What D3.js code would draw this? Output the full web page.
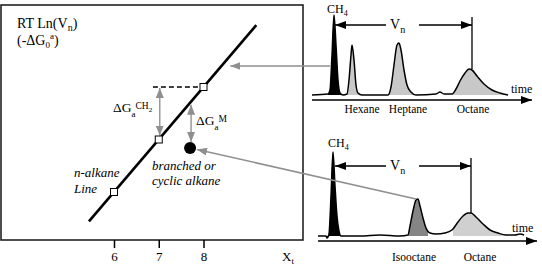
<!DOCTYPE html>
<html>
<head>
<meta charset="utf-8">
<script src="https://cdn.jsdelivr.net/npm/d3@7"></script>
<style>
body { margin: 0; background: #fff; }
svg text { font-family: "Liberation Serif", "Times New Roman", Times, Tinos, "Noto Serif", "DejaVu Serif", serif !important; fill: #000; }
</style>
</head>
<body>
<div id="chart"></div>
<script>
// left panel: carbon number vs RT Ln(Vn) (arbitrary units)
var carbonNumbers = [6, 7, 8];
var alkaneEnergy = [6.0, 7.0, 8.0];
var lineCarbon = [5.44, 9.18];
var lineEnergy = [5.44, 9.18];
var branchedCarbon = 7.7;
var branchedEnergy = 6.84;
var xTicks = [6, 7, 8];

// chromatograms: time (a.u.) and detector signal (a.u.)
var topTime   = [0, 16, 18, 20, 22, 24, 26, 28, 31, 35, 37, 39, 40, 42, 44, 46, 50, 76, 79, 82, 85, 87, 89, 92, 95, 99, 104, 124, 128, 132, 140, 144, 148, 153, 157, 160, 165, 172, 180, 188, 196];
var topSignal = [0, 1, 5, 40, 80, 50, 15, 2, 0, 1, 15, 40, 50, 35, 10, 2, 0, 0, 8, 30, 50, 52, 45, 25, 10, 3, 0, 1, 3, 1, 1, 6, 14, 22, 26, 25, 19, 11, 5, 2, 0];
var topPeakNames = ["Hexane", "Heptane", "Octane"];
var topPeakTimes = [40, 87, 157];
var topFills = [[16, 31, "#000"], [35, 50, "#c8c8c8"], [76, 104, "#c8c8c8"], [140, 196, "#c8c8c8"]];

var botTime   = [6, 14, 15, 17, 19, 21, 23, 25, 27, 29, 48, 68, 88, 96, 98, 101, 104, 106, 108, 111, 114, 118, 124, 133, 140, 146, 151, 156, 159, 164, 171, 178, 186, 194, 203, 208, 212];
var botSignal = [0, 0, -2, 2, 40, 84, 50, 20, 5, 0, 0, 1, 0, 1, 10, 25, 36, 37, 30, 18, 8, 3, 2, 3, 6, 14, 20, 23, 23, 19, 12, 6, 3, 1, 1, 2, 1];
var botPeakNames = ["Isooctane", "Octane"];
var botPeakTimes = [102, 168];
var botFills = [[14, 29, "#000"], [96, 116, "#858585"], [141, 195, "#d0d0d0"]];

var svg = d3.select("#chart").append("svg")
  .attr("width", 542)
  .attr("height", 266);

svg.append("rect").attr("width", 542).attr("height", 266).attr("fill", "#fff");

var defs = svg.append("defs");
function marker(id, color, w, h) {
  defs.append("marker")
    .attr("id", id)
    .attr("markerUnits", "userSpaceOnUse")
    .attr("markerWidth", w).attr("markerHeight", h)
    .attr("refX", w).attr("refY", h / 2)
    .attr("orient", "auto-start-reverse")
    .append("path")
    .attr("d", `M0,0L${w},${h / 2}L0,${h}Z`)
    .attr("fill", color);
}
marker("ag", "#8f8f8f", 10, 8);
marker("ab", "#000", 11, 8);

// ---------------- left panel ----------------
var x = d3.scaleLinear().domain([6, 8]).range([114, 203.5]);
var y = d3.scaleLinear().domain([6, 8]).range([192, 87]);

svg.append("rect")
  .attr("x", 1).attr("y", 5)
  .attr("width", 302).attr("height", 235)
  .attr("fill", "none").attr("stroke", "#222").attr("stroke-width", 1.6);

var xAxis = svg.append("g")
  .attr("transform", "translate(0,240)")
  .call(d3.axisBottom(x).tickValues(xTicks).tickFormat(d3.format("d")).tickSize(8).tickPadding(4));
xAxis.select(".domain").remove();
xAxis.selectAll("line").attr("stroke", "#000").attr("stroke-width", 1.5);
xAxis.selectAll("text").style("font-size", "13px");

var xt = svg.append("text").attr("x", 282).attr("y", 261).style("font-size", "13px");
xt.append("tspan").text("X");
xt.append("tspan").attr("dy", 3).style("font-size", "9px").text("t");

// dashed reference from the n=8 point
svg.append("line")
  .attr("x1", x(6.87)).attr("x2", x(8))
  .attr("y1", y(alkaneEnergy[2])).attr("y2", y(alkaneEnergy[2]))
  .attr("stroke", "#000").attr("stroke-width", 1.4)
  .attr("stroke-dasharray", "5,3");

// n-alkane line
svg.append("line")
  .attr("x1", x(lineCarbon[0])).attr("y1", y(lineEnergy[0]))
  .attr("x2", x(lineCarbon[1])).attr("y2", y(lineEnergy[1]))
  .attr("stroke", "#000").attr("stroke-width", 2.6);

// gray double arrows
svg.append("line")
  .attr("x1", x(7) + 1).attr("x2", x(7) + 1)
  .attr("y1", y(alkaneEnergy[2]) + 1).attr("y2", y(alkaneEnergy[1]) - 4)
  .attr("stroke", "#999").attr("stroke-width", 1.5)
  .attr("marker-start", "url(#ag)").attr("marker-end", "url(#ag)");
svg.append("line")
  .attr("x1", x(branchedCarbon) + 1).attr("x2", x(branchedCarbon) + 1)
  .attr("y1", y(branchedCarbon) + 2).attr("y2", y(branchedEnergy) - 6)
  .attr("stroke", "#999").attr("stroke-width", 1.5)
  .attr("marker-start", "url(#ag)").attr("marker-end", "url(#ag)");

svg.selectAll(".pt")
  .data(carbonNumbers)
  .enter().append("rect")
  .attr("class", "pt")
  .attr("x", (d, i) => x(d) - 3.5)
  .attr("y", (d, i) => y(alkaneEnergy[i]) - 3.5)
  .attr("width", 7).attr("height", 7)
  .attr("fill", "#fff").attr("stroke", "#000").attr("stroke-width", 1);

svg.append("circle")
  .attr("cx", x(branchedCarbon)).attr("cy", y(branchedEnergy))
  .attr("r", 6).attr("fill", "#000");

// axis title
var t1 = svg.append("text").attr("x", 17).attr("y", 28).style("font-size", "14px");
t1.append("tspan").text("RT Ln(V");
t1.append("tspan").attr("dy", 3).style("font-size", "10px").text("n");
t1.append("tspan").attr("dy", -3).text(")");
var t2 = svg.append("text").attr("x", 17).attr("y", 45).style("font-size", "14px");
t2.append("tspan").text("(-ΔG");
t2.append("tspan").attr("dy", 3).style("font-size", "9px").text("0");
t2.append("tspan").attr("dy", -9).style("font-size", "9px").text("a");
t2.append("tspan").attr("dy", 6).text(")");

var g1 = svg.append("text").attr("x", 113).attr("y", 112).style("font-size", "13.5px");
g1.append("tspan").text("ΔG");
g1.append("tspan").attr("dy", 5).style("font-size", "9px").text("a");
g1.append("tspan").attr("dy", -8).style("font-size", "9.5px").text("CH");
g1.append("tspan").attr("dy", 3).style("font-size", "7px").text("2");

var g2 = svg.append("text").attr("x", 196).attr("y", 125).style("font-size", "13.5px");
g2.append("tspan").text("ΔG");
g2.append("tspan").attr("dy", 5).style("font-size", "9px").text("a");
g2.append("tspan").attr("dy", -8).style("font-size", "9.5px").text("M");

svg.append("text").attr("x", 152).attr("y", 170).style("font-size", "13px").style("font-style", "italic").text("branched or");
svg.append("text").attr("x", 152).attr("y", 185).style("font-size", "13px").style("font-style", "italic").text("cyclic alkane");
svg.append("text").attr("x", 74).attr("y", 177).style("font-size", "13px").style("font-style", "italic").text("n-alkane");
svg.append("text").attr("x", 74).attr("y", 193).style("font-size", "13px").style("font-style", "italic").text("Line");

// ---------------- chromatograms ----------------
var t = d3.scaleLinear().domain([0, 220]).range([312, 532]);
var sTop = d3.scaleLinear().domain([0, 80]).range([95, 15]);
var sBot = d3.scaleLinear().domain([0, 84]).range([236, 152]);

function chromatogram(id, times, signals, s, fills, axisY, axisX0, axisX1) {
  var pts = times.map((d, i) => [d, signals[i]]);
  var area = d3.area().x(d => t(d[0])).y0(s(0)).y1(d => s(d[1])).curve(d3.curveMonotoneX);
  var line = d3.line().x(d => t(d[0])).y(d => s(d[1])).curve(d3.curveMonotoneX);
  fills.forEach((f, i) => {
    defs.append("clipPath").attr("id", id + i)
      .append("rect").attr("x", t(f[0])).attr("y", 0)
      .attr("width", t(f[1]) - t(f[0])).attr("height", 266);
    svg.append("path").datum(pts)
      .attr("d", area).attr("fill", f[2])
      .attr("clip-path", `url(#${id + i})`);
  });
  svg.append("path").datum(pts)
    .attr("d", line).attr("fill", "none")
    .attr("stroke", "#000").attr("stroke-width", 1.5);
  svg.append("line")
    .attr("x1", axisX0).attr("x2", axisX1)
    .attr("y1", axisY).attr("y2", axisY)
    .attr("stroke", "#000").attr("stroke-width", 1.5)
    .attr("marker-end", "url(#ab)");
}

chromatogram("ct", topTime, topSignal, sTop, topFills, 100, 312, 532);
chromatogram("cb", botTime, botSignal, sBot, botFills, 241, 318, 537);

svg.append("text").attr("x", 511).attr("y", 93).style("font-size", "12px").text("time");
svg.append("text").attr("x", 512).attr("y", 232).style("font-size", "12px").text("time");

svg.selectAll(".tl")
  .data(topPeakNames)
  .enter().append("text")
  .attr("x", (d, i) => t(topPeakTimes[i]) + [10, 9, 4][i])
  .attr("y", 113)
  .attr("text-anchor", "middle")
  .style("font-size", "11.5px")
  .text(d => d);
svg.selectAll(".bl")
  .data(botPeakNames)
  .enter().append("text")
  .attr("x", (d, i) => t(botPeakTimes[i]))
  .attr("y", 261)
  .attr("text-anchor", "middle")
  .style("font-size", "11.5px")
  .text(d => d);

function ch4(xp, yp) {
  var c = svg.append("text").attr("x", xp).attr("y", yp).style("font-size", "12px");
  c.append("tspan").text("CH");
  c.append("tspan").attr("dy", 3).style("font-size", "8px").text("4");
}
ch4(327, 13);
ch4(328, 147);

function vn(yA, tipL, tipR, vTop, vBot, xV) {
  svg.append("line").attr("x1", 386).attr("x2", tipL).attr("y1", yA).attr("y2", yA)
    .attr("stroke", "#000").attr("stroke-width", 1.3).attr("marker-end", "url(#ab)");
  svg.append("line").attr("x1", 419).attr("x2", tipR).attr("y1", yA).attr("y2", yA)
    .attr("stroke", "#000").attr("stroke-width", 1.3).attr("marker-end", "url(#ab)");
  svg.append("line").attr("x1", tipR).attr("x2", tipR).attr("y1", vTop).attr("y2", vBot)
    .attr("stroke", "#000").attr("stroke-width", 1.3);
  var v = svg.append("text").attr("x", xV).attr("y", yA + 4).style("font-size", "14px");
  v.append("tspan").text("V");
  v.append("tspan").attr("dy", 4).style("font-size", "10px").text("n");
}
vn(25, t(23), t(160), 17, sTop(26), 390);
vn(166, t(23), t(159), 158, sBot(23), 390);

// gray link arrows from chromatogram peaks to the plot
svg.append("line")
  .attr("x1", t(18)).attr("y1", 66)
  .attr("x2", x(8.6)).attr("y2", 66)
  .attr("stroke", "#8f8f8f").attr("stroke-width", 1.5)
  .attr("marker-end", "url(#ag)");
svg.append("line")
  .attr("x1", t(104)).attr("y1", sBot(37))
  .attr("x2", x(branchedCarbon) + 7).attr("y2", y(branchedEnergy) + 1.6)
  .attr("stroke", "#8f8f8f").attr("stroke-width", 1.5)
  .attr("marker-end", "url(#ag)");
</script>
</body>
</html>
